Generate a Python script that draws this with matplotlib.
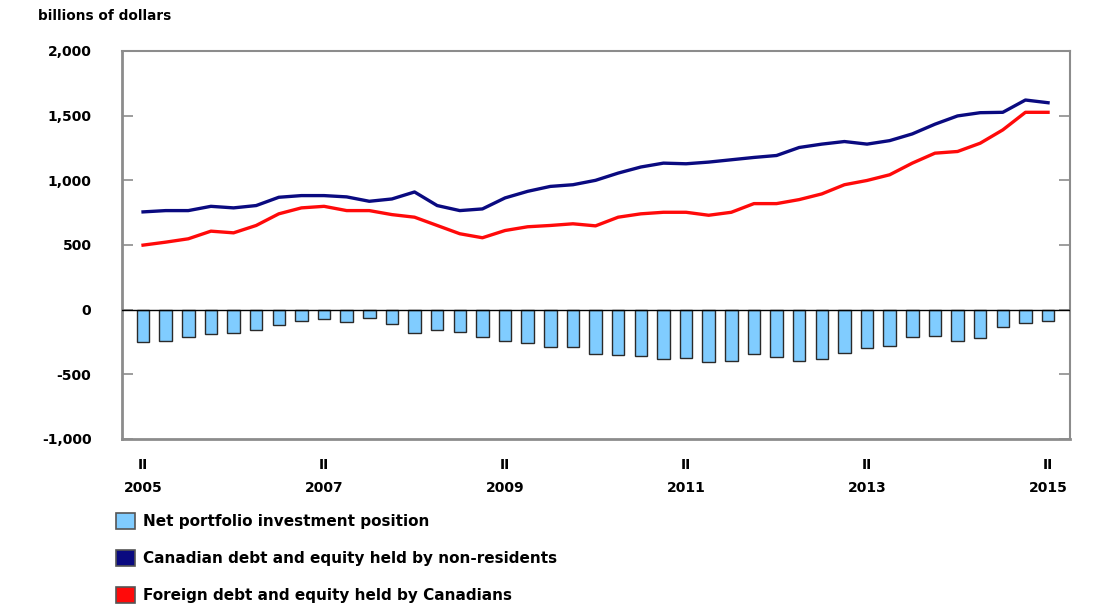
import matplotlib
matplotlib.use("Agg")
import matplotlib.pyplot as plt
from matplotlib.patches import Patch
import numpy as np

# Quarterly observations, 2005 Q2 to 2015 Q2 (billions of dollars)
quarters = [f"{y} Q{q}" for y in range(2005, 2016) for q in range(1, 5)][1:42]

net_position = [-248, -240, -209, -189, -179, -155, -119, -89, -73, -99,
                -65, -109, -181, -160, -176, -209, -245, -255, -292, -292,
                -343, -348, -356, -381, -371, -407, -397, -345, -368, -399,
                -381, -335, -296, -283, -209, -206, -245, -222, -132, -104,
                -86]

held_by_nonresidents = [756, 766, 766, 799, 787, 805, 869, 882, 882, 872,
                        838, 856, 910, 805, 766, 779, 864, 915, 953, 966,
                        1000, 1056, 1103, 1133, 1128, 1141, 1159, 1177, 1192, 1254,
                        1280, 1300, 1280, 1307, 1359, 1434, 1498, 1523, 1526, 1621,
                        1600]

held_by_canadians = [499, 522, 548, 607, 594, 651, 741, 787, 799, 766,
                     766, 735, 715, 651, 587, 556, 612, 641, 651, 664,
                     648, 715, 741, 753, 753, 730, 753, 820, 820, 851,
                     895, 966, 999, 1043, 1133, 1210, 1223, 1287, 1390, 1526,
                     1526]

tick_positions = [0, 8, 16, 24, 32, 40]
tick_labels = ["II\n2005", "II\n2007", "II\n2009", "II\n2011", "II\n2013", "II\n2015"]
y_ticks = [-1000, -500, 0, 500, 1000, 1500, 2000]
y_tick_labels = ["-1,000", "-500", "0", "500", "1,000", "1,500", "2,000"]

legend_labels = ["Net portfolio investment position",
                 "Canadian debt and equity held by non-residents",
                 "Foreign debt and equity held by Canadians"]

bar_color = "#80CCFF"
navy = "#0A0A80"
red = "#FF0A0A"
frame_grey = "#8C8C8C"

plt.rcParams["font.family"] = ["DejaVu Sans"]

fig = plt.figure(figsize=(10.94, 6.07), dpi=100)
ax = fig.add_axes([122 / 1094, 1 - 439 / 607, (1070 - 122) / 1094, (439 - 51) / 607])

x = np.arange(len(quarters))
ax.bar(x, net_position, width=0.55, color=bar_color, edgecolor="#2a2a2a",
       linewidth=1.0, zorder=2)
ax.plot(x, held_by_nonresidents, color=navy, linewidth=2.4, zorder=3,
        solid_joinstyle="round")
ax.plot(x, held_by_canadians, color=red, linewidth=2.4, zorder=3,
        solid_joinstyle="round")
ax.axhline(0, color="black", linewidth=1.0, zorder=4)

ax.set_xlim(-0.93, 40.97)
ax.set_ylim(-1000, 2000)

ax.set_yticks(y_ticks)
ax.set_yticklabels(y_tick_labels, fontsize=10, fontweight="bold")
ax.set_xticks(tick_positions)
ax.set_xticklabels(tick_labels, fontsize=10, fontweight="bold", linespacing=1.75)

ax.tick_params(axis="y", direction="in", length=8, width=1.2, color=frame_grey,
               pad=22, right=True)
ax.tick_params(axis="x", length=0, pad=14)

for side in ["left", "bottom", "top", "right"]:
    ax.spines[side].set_color(frame_grey)
    ax.spines[side].set_linewidth(2.0)
ax.spines["top"].set_linewidth(1.5)
ax.spines["right"].set_linewidth(1.5)

fig.text(38 / 1094, 1 - 16 / 607, "billions of dollars", fontsize=9.8,
         fontweight="bold", ha="left", va="center")

handles = [Patch(facecolor=bar_color, edgecolor="#555555", linewidth=1.2),
           Patch(facecolor=navy, edgecolor="#555555", linewidth=1.2),
           Patch(facecolor=red, edgecolor="#555555", linewidth=1.2)]
fig.legend(handles, legend_labels, loc="upper left",
           bbox_to_anchor=(110 / 1094, 1 - 507 / 607), frameon=False,
           handlelength=1.25, handleheight=1.25,
           handletextpad=0.5, labelspacing=1.36, borderaxespad=0,
           prop={"weight": "bold", "size": 11})

fig.savefig("out.png", dpi=100)
